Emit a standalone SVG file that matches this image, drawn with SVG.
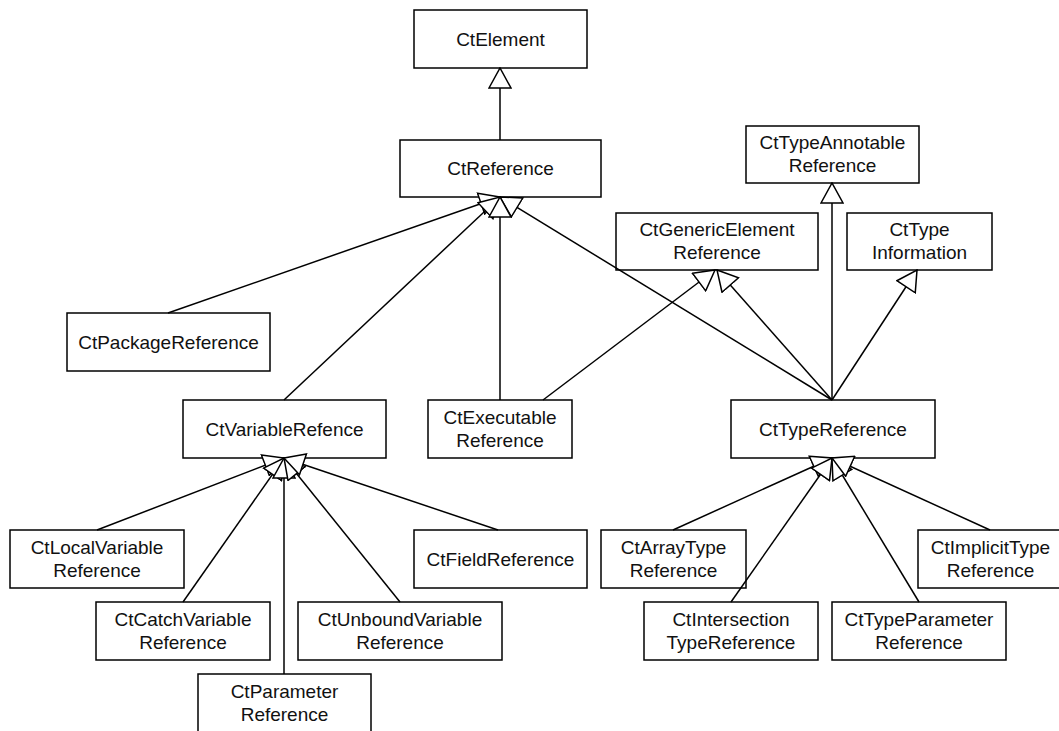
<svg xmlns="http://www.w3.org/2000/svg" width="1059" height="731" viewBox="0 0 1059 731">
<style>
.box{fill:#fff;stroke:#000;stroke-width:1.5}
.lbl{font-family:"Liberation Sans",Arial,sans-serif;font-size:19px;fill:#111;text-anchor:middle}
.edge{fill:none;stroke:#000;stroke-width:1.5;marker-end:url(#tri)}
</style>
<defs>
<marker id="tri" viewBox="-1 -1 22 24" refX="20" refY="11" markerWidth="22" markerHeight="24" markerUnits="userSpaceOnUse" orient="auto">
<path d="M0,0 L20,11 L0,22 Z" fill="#fff" stroke="#000" stroke-width="1.5" stroke-linejoin="miter"/>
</marker>
</defs>
<rect width="1059" height="731" fill="#fff"/>

<g id="CtElement"><rect class="box" x="414" y="10" width="173" height="58"/><text class="lbl" x="500.5" y="45.5">CtElement</text></g>
<g id="CtReference"><rect class="box" x="400" y="140" width="201" height="57"/><text class="lbl" x="500.5" y="175">CtReference</text></g>
<g id="CtTypeAnnotableReference"><rect class="box" x="746" y="126" width="173" height="57"/><text class="lbl" x="832.5" y="149">CtTypeAnnotable</text><text class="lbl" x="832.5" y="172">Reference</text></g>
<g id="CtGenericElementReference"><rect class="box" x="616" y="213" width="202" height="57"/><text class="lbl" x="717" y="236">CtGenericElement</text><text class="lbl" x="717" y="259">Reference</text></g>
<g id="CtTypeInformation"><rect class="box" x="847" y="213" width="145" height="57"/><text class="lbl" x="919.5" y="236">CtType</text><text class="lbl" x="919.5" y="259">Information</text></g>
<g id="CtPackageReference"><rect class="box" x="67" y="313" width="203" height="58"/><text class="lbl" x="168.5" y="348.5">CtPackageReference</text></g>
<g id="CtVariableRefence"><rect class="box" x="183" y="400" width="203" height="58"/><text class="lbl" x="284.5" y="435.5">CtVariableRefence</text></g>
<g id="CtExecutableReference"><rect class="box" x="428" y="400" width="144" height="58"/><text class="lbl" x="500" y="423.5">CtExecutable</text><text class="lbl" x="500" y="446.5">Reference</text></g>
<g id="CtTypeReference"><rect class="box" x="731" y="400" width="204" height="58"/><text class="lbl" x="833" y="435.5">CtTypeReference</text></g>
<g id="CtLocalVariableReference"><rect class="box" x="10" y="530" width="174" height="58"/><text class="lbl" x="97" y="553.5">CtLocalVariable</text><text class="lbl" x="97" y="576.5">Reference</text></g>
<g id="CtFieldReference"><rect class="box" x="414" y="530" width="173" height="58"/><text class="lbl" x="500.5" y="565.5">CtFieldReference</text></g>
<g id="CtArrayTypeReference"><rect class="box" x="601" y="530" width="145" height="58"/><text class="lbl" x="673.5" y="553.5">CtArrayType</text><text class="lbl" x="673.5" y="576.5">Reference</text></g>
<g id="CtImplicitTypeReference"><rect class="box" x="918" y="530" width="145" height="58"/><text class="lbl" x="990.5" y="553.5">CtImplicitType</text><text class="lbl" x="990.5" y="576.5">Reference</text></g>
<g id="CtCatchVariableReference"><rect class="box" x="96" y="602" width="174" height="58"/><text class="lbl" x="183" y="625.5">CtCatchVariable</text><text class="lbl" x="183" y="648.5">Reference</text></g>
<g id="CtUnboundVariableReference"><rect class="box" x="298" y="602" width="204" height="58"/><text class="lbl" x="400" y="625.5">CtUnboundVariable</text><text class="lbl" x="400" y="648.5">Reference</text></g>
<g id="CtIntersectionTypeReference"><rect class="box" x="644" y="602" width="174" height="58"/><text class="lbl" x="731" y="625.5">CtIntersection</text><text class="lbl" x="731" y="648.5">TypeReference</text></g>
<g id="CtTypeParameterReference"><rect class="box" x="832" y="602" width="174" height="58"/><text class="lbl" x="919" y="625.5">CtTypeParameter</text><text class="lbl" x="919" y="648.5">Reference</text></g>
<g id="CtParameterReference"><rect class="box" x="198" y="674" width="173" height="58"/><text class="lbl" x="284.5" y="697.5">CtParameter</text><text class="lbl" x="284.5" y="720.5">Reference</text></g>

<g id="connectors">
<path class="edge" d="M500,140 L500,68"/>
<path class="edge" d="M168,313 L500,197"/>
<path class="edge" d="M284,400 L500,197"/>
<path class="edge" d="M832,400 L500,197"/>
<path class="edge" d="M500,400 L500,197"/>
<path class="edge" d="M543,400 L715,270"/>
<path class="edge" d="M832,400 L717,270"/>
<path class="edge" d="M832,400 L832,183"/>
<path class="edge" d="M832,400 L917,270"/>
<path class="edge" d="M97,530 L284,458"/>
<path class="edge" d="M183,602 L284,458"/>
<path class="edge" d="M284,674 L284,458"/>
<path class="edge" d="M400,602 L284,458"/>
<path class="edge" d="M498,530 L284,458"/>
<path class="edge" d="M673,530 L832,458"/>
<path class="edge" d="M731,602 L832,458"/>
<path class="edge" d="M919,602 L832,458"/>
<path class="edge" d="M990,530 L832,458"/>
</g>
</svg>
